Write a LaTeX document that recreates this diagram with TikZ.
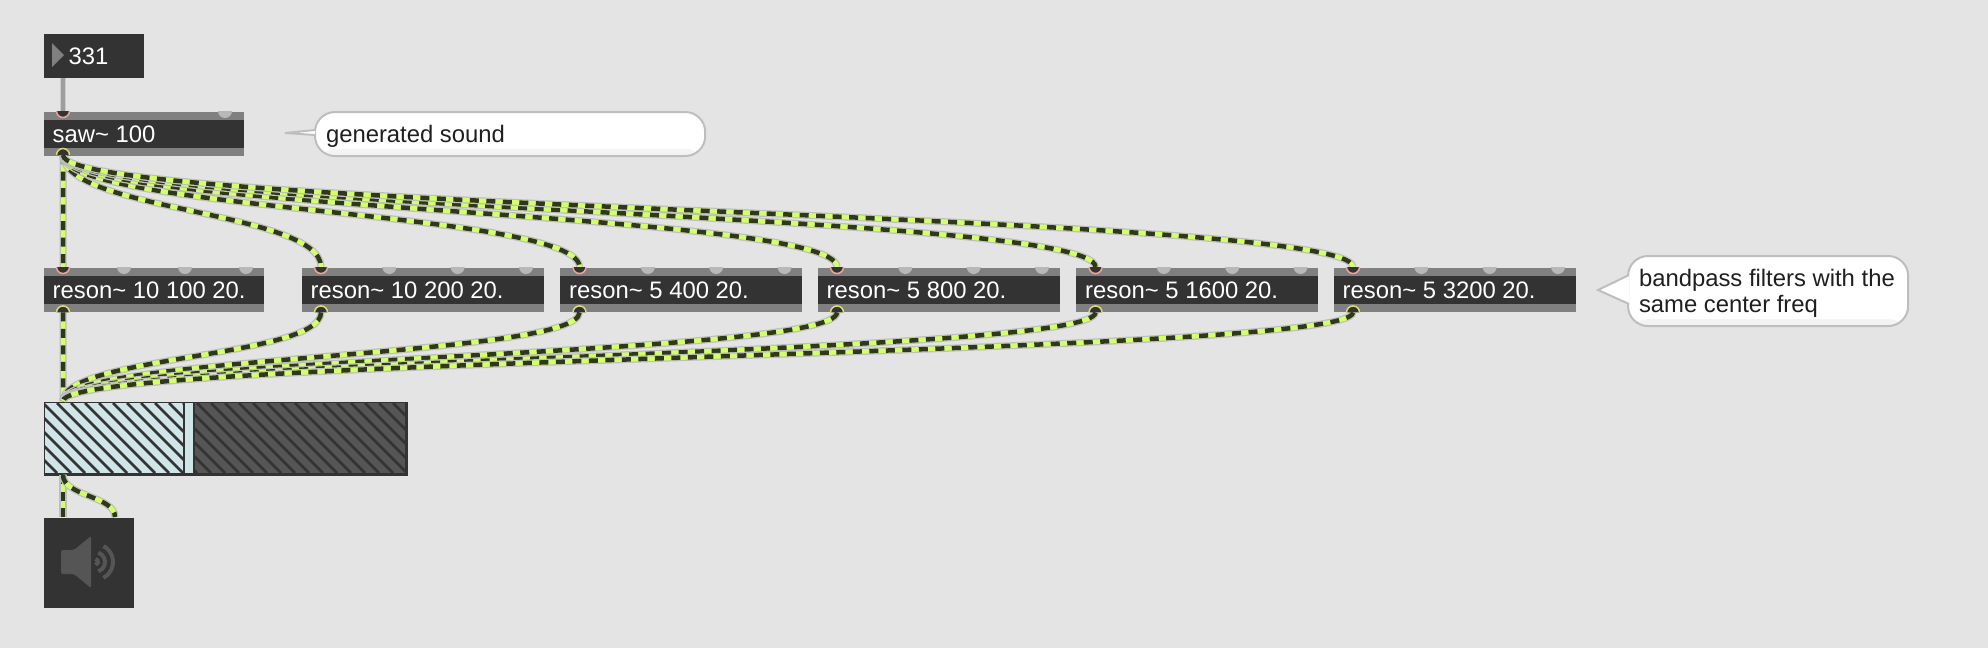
\documentclass[tikz,border=0pt]{standalone}
\usepackage{fontspec}
\setmainfont{Liberation Sans}
\definecolor{patchbg}{HTML}{E4E4E4}
\definecolor{boxdark}{HTML}{333333}
\definecolor{boxband}{HTML}{808080}
\definecolor{idleport}{HTML}{B8B8B8}
\definecolor{inring}{HTML}{F2A596}
\definecolor{outring}{HTML}{DCDC6E}
\definecolor{sigbright}{HTML}{D2FF6A}
\definecolor{sigdark}{HTML}{2F371C}
\definecolor{bubbleline}{HTML}{BEBEBE}
\definecolor{meterlight}{HTML}{CFE5E8}
\definecolor{metergrey}{HTML}{555555}
\tikzset{
  maxtext/.style={font=\fontsize{6.78}{7.4}\selectfont,text height=.17cm,text depth=0pt},
  numbox/.style={maxtext,anchor=north west,fill=boxdark,text=white,inner xsep=.09cm,inner ysep=0pt,
    minimum height=.44cm,text width=#1-.18cm,align=flush left},
  objbox/.style={numbox=#1,path picture={
    \fill[boxband] (path picture bounding box.north west) rectangle ([yshift=-.08cm]path picture bounding box.north east);
    \fill[boxband] (path picture bounding box.south west) rectangle ([yshift=.08cm]path picture bounding box.south east);}},
  bubble/.style={maxtext,anchor=north west,draw=bubbleline,line width=.02cm,fill=white,text=black!88,
    rounded corners=.2cm,inner xsep=.11cm,inner ysep=0pt,text width=#1-.22cm,align=flush left,path picture={
    \shade[top color=white,bottom color=black!5] ([yshift=.07cm]path picture bounding box.south west) rectangle (path picture bounding box.south east);}},
  bubbletail/.style={draw=bubbleline,line width=.02cm,fill=white},
  sigcord/.style={preaction={draw=bubbleline,line width=.07cm},preaction={draw=sigbright,line width=.045cm},
    draw=sigdark,line width=.045cm,dash pattern=on .09cm off .075cm},
  ctlcord/.style={preaction={draw=black!20,line width=.065cm},draw=black!38,line width=.035cm},
  inport/.style={fill=boxdark,draw=inring,line width=.015cm},
  outport/.style={fill=boxdark,draw=outring,line width=.015cm},
}
\begin{document}
\begin{tikzpicture}[x=.01cm,y=-.01cm]
\useasboundingbox (1,1) rectangle (1989,649);
\fill[patchbg] (1,1) rectangle (1989,649);
% objects
\node[numbox=1cm] (num) at (44,34) {\hspace*{.16cm}331};
\fill[boxband] (53,44)--(65,56)--(53,68)--cycle;
\node[objbox=2cm] (saw) at (44,112) {saw\textasciitilde{} 100};
\coordinate (sawin) at (64,112);
\coordinate (sawout) at (64,156);
\foreach \n/\x/\w/\lab in {1/44/2.2cm/10 100 20.,2/302/2.42cm/10 200 20.,3/560.5/2.42cm/5 400 20.,
    4/818/2.42cm/5 800 20.,5/1076.5/2.42cm/5 1600 20.,6/1334/2.42cm/5 3200 20.}{
  \node[objbox=\w] (res\n) at (\x,268) {reson\textasciitilde{} \lab};
  \coordinate (res\n in) at ([xshift=.2cm]res\n.north west);
  \coordinate (res\n out) at ([xshift=.2cm]res\n.south west);
}
\node[anchor=north west,fill=boxdark,inner sep=0pt,minimum width=3.64cm,minimum height=.74cm] (gain) at (44,402) {};
\coordinate (gainin) at (64,402);
\coordinate (gainout) at (64,476);
\node[anchor=north west,fill=boxdark,inner sep=0pt,minimum size=.9cm] (dac) at (44,518) {};
\coordinate (dacl) at (64,518);
\coordinate (dacr) at (116,518);
% patch cords
\draw[ctlcord] (num.south -| sawin) -- (sawin);
\draw[sigcord] (sawout) -- (res1in);
\foreach \n in {2,...,6}{
  \draw[sigcord] (sawout) .. controls +(0,56) and +(0,-56) .. (res\n in);
}
\draw[sigcord] (res1out) -- (gainin);
\foreach \n in {2,...,6}{
  \draw[sigcord] (res\n out) .. controls +(0,45) and +(0,-45) .. (gainin);
}
\draw[sigcord] (gainout) -- (dacl);
\draw[sigcord] (gainout) .. controls +(0,21) and +(0,-21) .. (dacr);
% ports
\fill[idleport] ([xshift=-.07cm]saw.north west -| 226,112) arc[start angle=180,end angle=360,radius=.07cm];
\draw[inport] ([xshift=-.065cm]sawin) arc[start angle=180,end angle=360,radius=.065cm];
\draw[outport] ([xshift=-.065cm]sawout) arc[start angle=180,end angle=0,radius=.065cm];
\foreach \n/\w in {1/220,2/242,3/242,4/242,5/242,6/242}{
  \pgfmathsetmacro{\gap}{(\w-37)/3*.01}
  \foreach \k in {1,2,3}{
    \fill[idleport] ([xshift=\k*\gap*1cm-.07cm]res\n in) arc[start angle=180,end angle=360,radius=.07cm];
  }
  \draw[inport] ([xshift=-.065cm]res\n in) arc[start angle=180,end angle=360,radius=.065cm];
  \draw[outport] ([xshift=-.065cm]res\n out) arc[start angle=180,end angle=0,radius=.065cm];
}
% meter
\begin{scope}
\clip (46,404) rectangle (406,474);
\fill[meterlight] (46,404) rectangle (184,474);
\fill[metergrey] (196,404) rectangle (406,474);
\foreach \x in {-26,-12,...,410}{
  \draw[boxdark,line width=.028cm] (\x,404) -- ++(70,70);
}
\fill[boxdark] (184,404) rectangle (196,474);
\fill[meterlight] (186,404) rectangle (194,474);
\end{scope}
% speaker
\fill[metergrey,rounded corners=.02cm] (62,551)--(75,551)--(92,537)--(92,589)--(75,575)--(62,575)--cycle;
\foreach \r/\a in {.18cm/62,.10cm/70,.03cm/80}{
  \draw[metergrey,line width=.04cm] (96,563) ++(\a:\r) arc[start angle=\a,end angle=-\a,radius=\r];
}
% comments
\node[bubble=3.9cm,minimum height=.44cm] (sndnote) at (315,112) {generated sound};
\filldraw[bubbletail] (316,131)--(286,134)--(316,136);
\node[bubble=2.8cm,minimum height=.7cm,text depth=.26cm] (filtnote) at (1628,256) {bandpass filters with the\\same center freq};
\filldraw[bubbletail] (1630,276)--(1599,291)--(1630,305);
\end{tikzpicture}
\end{document}
